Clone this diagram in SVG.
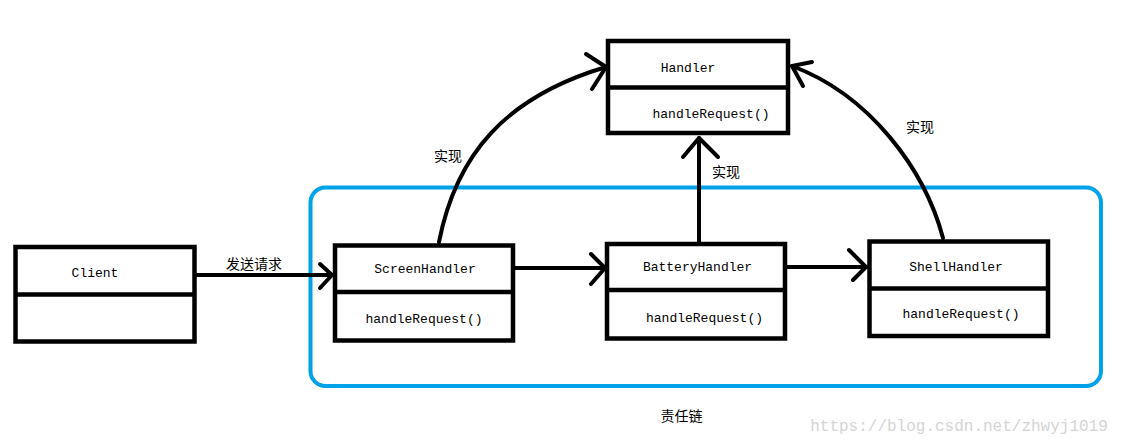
<svg xmlns="http://www.w3.org/2000/svg" width="1134" height="446" viewBox="0 0 1134 446">
<style>
.box{fill:#fff;stroke:#000;stroke-width:4.5}
.div{stroke:#000;stroke-width:4.5}
.mono{font-family:"Liberation Mono","DejaVu Sans Mono",monospace;font-size:13px;fill:#000;text-anchor:middle}
.cjk{font-family:"Noto Sans CJK SC","Noto Sans",sans-serif;font-size:14px;fill:#000;text-anchor:middle}
.ln{fill:none;stroke:#000;stroke-width:4;stroke-linecap:round;stroke-linejoin:round}
</style>
<rect width="1134" height="446" fill="#fff"/>
<g id="chain">
<rect x="310.5" y="187.5" width="790.5" height="198.5" rx="15" fill="none" stroke="#00a2e8" stroke-width="4"/>
<text class="cjk" x="681.5" y="421">责任链</text>
</g>
<g id="connectors">
<line class="ln" x1="197" y1="275" x2="332" y2="275"/>
<polyline class="ln" points="320,264 332,275 320,288"/>
<text class="cjk" x="254" y="269">发送请求</text>
<line class="ln" x1="515" y1="268" x2="605" y2="268"/>
<polyline class="ln" points="591,254 605,268 591,284"/>
<line class="ln" x1="787" y1="267" x2="866" y2="267"/>
<polyline class="ln" points="849,250 866,267 853,280"/>
<line class="ln" x1="699" y1="242" x2="699" y2="138"/>
<polyline class="ln" points="683,157 699,138 718,157"/>
<text class="cjk" x="726" y="177">实现</text>
<path class="ln" d="M439,242 C456,155 505,97 606,67"/>
<polyline class="ln" points="586,54 606,67 592,89"/>
<text class="cjk" x="448" y="161">实现</text>
<path class="ln" d="M943,238 C925,170 870,95 792,66"/>
<polyline class="ln" points="812,62 792,66 803,86"/>
<text class="cjk" x="920" y="132">实现</text>
</g>
<g id="client">
<rect class="box" x="15.5" y="247" width="179" height="94.5"/>
<line class="div" x1="15.5" y1="294.5" x2="194.5" y2="294.5"/>
<text class="mono" x="95" y="277">Client</text>
</g>
<g id="handler">
<rect class="box" x="608" y="41" width="180" height="92"/>
<line class="div" x1="608" y1="87.5" x2="788" y2="87.5"/>
<text class="mono" x="688" y="72">Handler</text>
<text class="mono" x="711" y="118">handleRequest()</text>
</g>
<g id="screenHandler">
<rect class="box" x="335" y="245.5" width="178" height="95"/>
<line class="div" x1="335" y1="292" x2="513" y2="292"/>
<text class="mono" x="425" y="273">ScreenHandler</text>
<text class="mono" x="424" y="323">handleRequest()</text>
</g>
<g id="batteryHandler">
<rect class="box" x="607" y="244" width="178" height="94.5"/>
<line class="div" x1="607" y1="290" x2="785" y2="290"/>
<text class="mono" x="697.5" y="271">BatteryHandler</text>
<text class="mono" x="704.5" y="322">handleRequest()</text>
</g>
<g id="shellHandler">
<rect class="box" x="869.5" y="241.5" width="178.5" height="94.5"/>
<line class="div" x1="869.5" y1="288.5" x2="1048" y2="288.5"/>
<text class="mono" x="956" y="271">ShellHandler</text>
<text class="mono" x="961" y="318">handleRequest()</text>
</g>
<text x="959" y="431" font-family="Liberation Mono,monospace" font-size="16" fill="#d4d4d4" text-anchor="middle">https://blog.csdn.net/zhwyj1019</text>
</svg>
